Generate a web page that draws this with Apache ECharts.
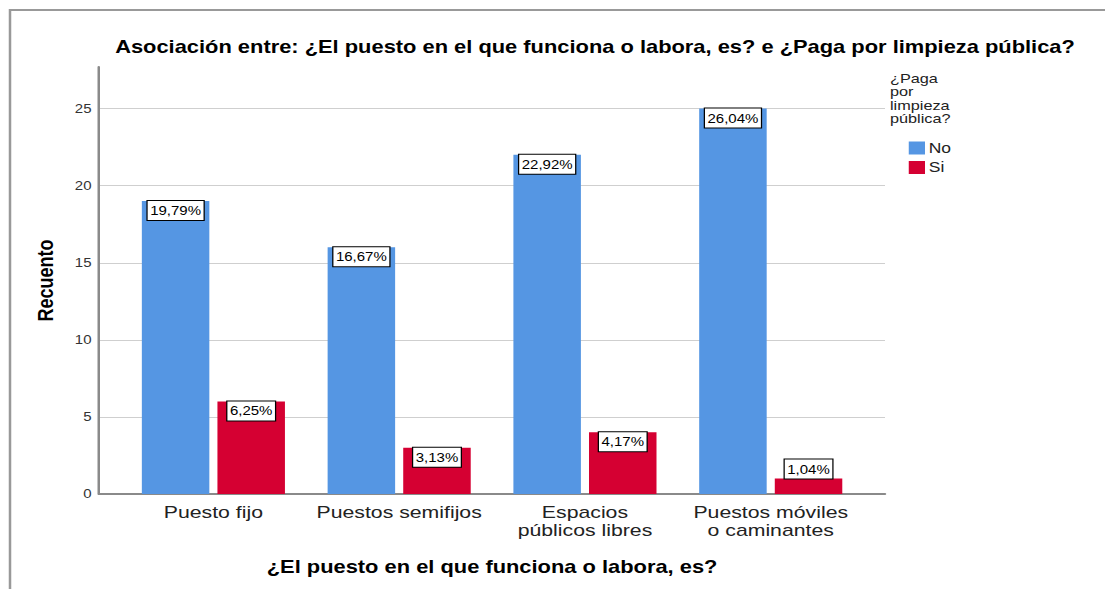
<!DOCTYPE html>
<html>
<head>
<meta charset="utf-8">
<script src="https://cdn.jsdelivr.net/npm/echarts@6/dist/echarts.min.js"></script>
<style>
  html, body { margin: 0; padding: 0; background: #fff; overflow: hidden; }
  /* the reference is stretched horizontally, so draw narrow and stretch */
  #chart { width: 884px; height: 589px; transform: scaleX(1.25); transform-origin: 0 0; }
</style>
</head>
<body>
<div id="chart"></div>
<script>
let categories = ['Puesto fijo', 'Puestos semifijos', 'Espacios\npúblicos libres', 'Puestos móviles\no caminantes']
let noValues = [19, 16, 22, 25]
let siValues = [6, 3, 4, 1]
let noPct = ['19,79%', '16,67%', '22,92%', '26,04%']
let siPct = ['6,25%', '3,13%', '4,17%', '1,04%']
let yTicks = [0, 5, 10, 15, 20, 25]

let font = "'Liberation Sans', Arial, sans-serif"
let blue = '#5596e3'
let red = '#d50032'

let boxLabel = {
  show: true,
  position: 'insideTop',
  distance: 0,
  fontFamily: font,
  fontSize: 12,
  color: '#000',
  backgroundColor: '#fff',
  borderColor: '#000',
  borderWidth: 1,
  padding: [4, 2, 3, 2]
}

function withLabels(values, pcts) {
  return values.map((v, i) => {
    let item = { value: v, label: { formatter: pcts[i] } }
    // bar too short for the box: put it on top
    if (v < 2) item.label.position = 'top'
    return item
  })
}

let myChart = echarts.init(document.getElementById('chart'), null, { renderer: 'svg' })
let options = {
  animation: false,
  textStyle: { fontFamily: font },
  title: {
    text: 'Asociación entre: ¿El puesto en el que funciona o labora, es? e ¿Paga por limpieza pública?',
    left: 471,
    textAlign: 'center',
    top: 33,
    textStyle: { fontFamily: font, fontSize: 17.5, fontWeight: 'bold', color: '#000' }
  },
  legend: {
    data: ['No', 'Si'],
    orient: 'vertical',
    left: 722,
    top: 136,
    icon: 'rect',
    itemWidth: 13,
    itemHeight: 13,
    itemGap: 5.5,
    textStyle: { fontFamily: font, fontSize: 14, color: '#222', lineHeight: 13, padding: [0, 0, 0, -2] }
  },
  graphic: [
    {
      type: 'rect',
      silent: true,
      shape: { x: 8, y: 10, width: 2000, height: 2000 },
      style: { fill: 'none', stroke: '#999', lineWidth: 2 }
    },
    {
      type: 'text',
      left: 712,
      top: 72,
      style: {
        text: '¿Paga\npor\nlimpieza\npública?',
        font: '13px ' + font,
        lineHeight: 13.3,
        fill: '#222'
      }
    }
  ],
  grid: [
    { left: 79.2, width: 628.8, top: 67, height: 427 },
    { left: 96.4, width: 594.5, top: 67, height: 427 }
  ],
  xAxis: [
    {
      gridIndex: 0,
      type: 'category',
      data: categories,
      axisLine: { lineStyle: { color: '#8a8a8a', width: 2 } },
      axisTick: { show: false },
      axisLabel: { show: false },
      splitLine: { show: false }
    },
    {
      gridIndex: 1,
      type: 'category',
      data: categories,
      axisLine: { show: false },
      axisTick: { show: false },
      axisLabel: { interval: 0, fontFamily: font, fontSize: 17, lineHeight: 18, margin: 9, color: '#222' },
      name: '¿El puesto en el que funciona o labora, es?',
      nameLocation: 'middle',
      nameGap: 64,
      nameTextStyle: { fontFamily: font, fontSize: 17.5, fontWeight: 'bold', color: '#000' }
    }
  ],
  yAxis: [
    {
      gridIndex: 0,
      type: 'value',
      min: 0,
      max: 27.7,
      interval: 5,
      axisLine: { show: true, lineStyle: { color: '#8a8a8a', width: 2 } },
      axisTick: { show: false },
      axisLabel: {
        fontFamily: font, fontSize: 12, color: '#333', margin: 6, showMaxLabel: false,
        formatter: v => yTicks.includes(v) ? String(v) : ''
      },
      splitLine: { show: true, showMaxLine: false, lineStyle: { color: '#cfcfcf', width: 1 } },
      name: 'Recuento',
      nameLocation: 'middle',
      nameGap: 34,
      nameTextStyle: { fontFamily: font, fontSize: 18, fontWeight: 'bold', color: '#000' }
    },
    {
      gridIndex: 1,
      type: 'value',
      min: 0,
      max: 27.7,
      interval: 5,
      show: false
    }
  ],
  series: [
    {
      name: 'No',
      type: 'bar',
      xAxisIndex: 1,
      yAxisIndex: 1,
      barWidth: 54,
      barGap: '12%',
      itemStyle: { color: blue },
      label: boxLabel,
      data: withLabels(noValues, noPct)
    },
    {
      name: 'Si',
      type: 'bar',
      xAxisIndex: 1,
      yAxisIndex: 1,
      barWidth: 54,
      barGap: '12%',
      itemStyle: { color: red },
      label: boxLabel,
      data: withLabels(siValues, siPct)
    }
  ]
}
myChart.setOption(options)
</script>
</body>
</html>
